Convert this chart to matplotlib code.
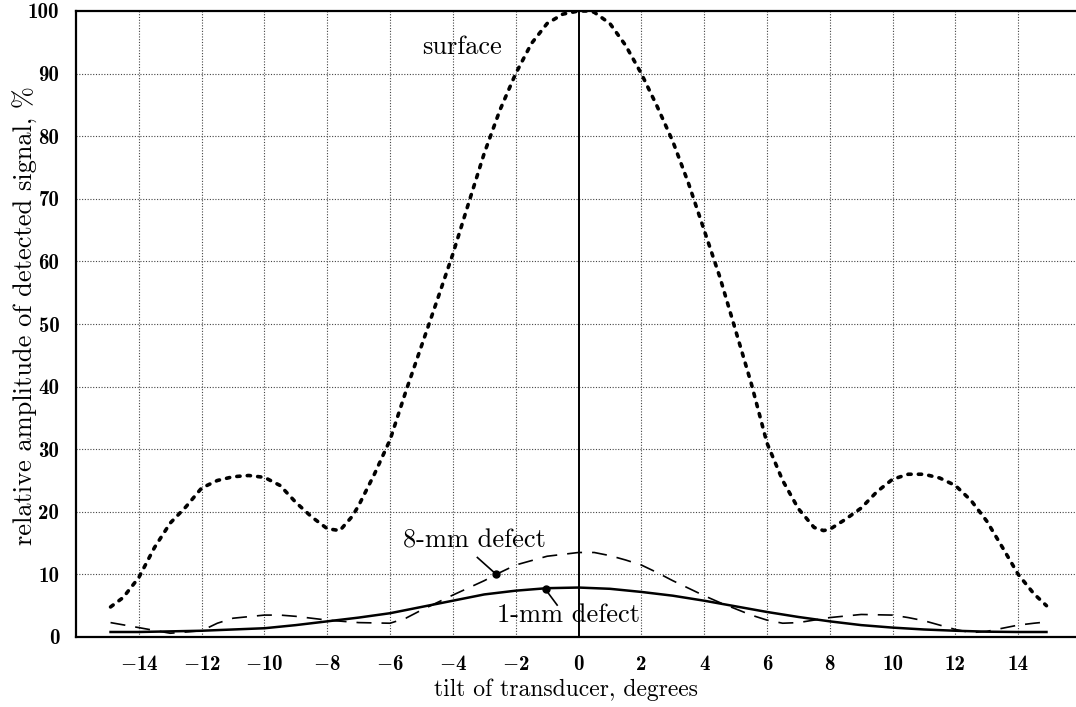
import matplotlib
matplotlib.use("Agg")
import matplotlib.pyplot as plt

plt.rcParams['mathtext.fontset'] = 'cm'
plt.rcParams['axes.unicode_minus'] = False

# ---- data ----
surface_x = [-14.9, -14.5, -14, -13.5, -13, -12.5, -12, -11.5, -11, -10.5, -10, -9.5, -9, -8.5, -8,
             -7.6, -7.2, -7, -6.5, -6, -5.5, -5, -4.5, -4, -3.5, -3, -2.5, -2, -1.5, -1, -0.5, 0,
             0.3, 0.5, 1, 1.5, 2, 2.5, 3, 3.5, 4, 4.5, 5, 5.5, 6, 6.5, 7, 7.5, 7.8, 8, 8.5, 9, 9.5,
             10, 10.5, 11, 11.5, 12, 12.5, 13, 13.5, 14, 14.5, 14.9]
surface_y = [4.8, 6.3, 9.5, 14.3, 18.2, 20.8, 23.8, 25.0, 25.6, 25.8, 25.5, 24.2, 21.5, 19.2, 17.3,
             17.0, 19.3, 21.0, 26.0, 31.5, 39.2, 46.5, 53.8, 61.2, 69.3, 77.3, 84.2, 90.0, 94.8, 98.0, 99.5, 100.0,
             100.0, 99.8, 98.0, 94.5, 90.0, 84.8, 79.2, 72.5, 65.0, 57.5, 49.0, 40.5, 31.0, 25.0, 20.5, 17.5, 17.0,
             17.2, 18.8, 20.6, 23.2, 25.2, 26.0, 26.0, 25.4, 24.2, 21.8, 18.5, 14.3, 10.0, 6.9, 5.0]

defect8_x = [-14.9, -14, -13, -12, -11.5, -11, -10, -9.5, -9, -8, -7, -6, -5.5, -5, -4.5, -4, -3, -2.5,
             -2, -1, 0, 0.5, 1, 1.5, 2, 2.5, 3, 3.5, 4, 4.5, 5, 5.5, 6, 6.5, 7, 7.5, 8, 9, 10, 10.5,
             11, 11.5, 12, 12.5, 13, 13.5, 14, 14.5, 14.9]
defect8_y = [2.3, 1.5, 0.6, 1.0, 2.2, 3.0, 3.5, 3.5, 3.3, 2.7, 2.3, 2.2, 3.0, 4.3, 5.5, 6.7, 9.0, 10.3,
             11.5, 12.9, 13.5, 13.5, 13.0, 12.3, 11.5, 10.3, 9.0, 7.8, 6.6, 5.5, 4.5, 3.5, 2.7, 2.2, 2.3, 2.7,
             3.1, 3.6, 3.5, 3.1, 2.6, 1.9, 1.2, 0.7, 0.9, 1.4, 1.9, 2.2, 2.4]

defect1_x = [-14.9, -14, -13, -12, -11, -10, -9, -8, -7, -6, -5, -4, -3, -2, -1, 0, 1, 2, 3, 4, 5, 6,
             7, 8, 9, 10, 11, 12, 13, 14, 14.9]
defect1_y = [0.8, 0.8, 0.9, 1.0, 1.2, 1.4, 1.9, 2.5, 3.1, 3.8, 4.8, 5.8, 6.8, 7.4, 7.8, 7.9, 7.7, 7.2,
             6.6, 5.8, 4.9, 4.0, 3.2, 2.5, 1.9, 1.5, 1.2, 1.0, 0.85, 0.8, 0.8]

x_ticks = [-14, -12, -10, -8, -6, -4, -2, 0, 2, 4, 6, 8, 10, 12, 14]
y_ticks = [0, 10, 20, 30, 40, 50, 60, 70, 80, 90, 100]

FONT = ['cmr10', 'DejaVu Serif']
BFONT = ['cmb10', 'DejaVu Serif']

fig = plt.figure(figsize=(10.76, 7.07), dpi=100)
ax = fig.add_axes([76/1076, 1 - 637/707, 1 - 76/1076, (637 - 11)/707])
ax.set_xlim(-16, 15.84)
ax.set_ylim(0, 100)

# grid
for xv in x_ticks:
    if xv != 0:
        ax.axvline(xv, color='#444444', lw=0.8, ls=(0, (1, 1.5)), zorder=1)
for yv in y_ticks[1:-1]:
    ax.axhline(yv, color='#444444', lw=0.8, ls=(0, (1, 1.5)), zorder=1)
ax.axvline(0, color='black', lw=1.4, zorder=2)

# curves
ax.plot(surface_x, surface_y, color='black', lw=2.6, ls=(0, (0.9, 2.0)),
        dash_capstyle='round', zorder=3)
ax.plot(defect8_x, defect8_y, color='black', lw=1.2, ls=(0, (9, 6)), zorder=3)
ax.plot(defect1_x, defect1_y, color='black', lw=1.8, zorder=3)

# annotations
ax.text(-3.7, 94.3, 'surface', fontsize=19, family=FONT, ha='center', va='center')
ax.text(-3.3, 15.4, '8-mm defect', fontsize=19, family=FONT, ha='center', va='center')
ax.text(-0.33, 3.5, '1-mm defect', fontsize=19, family=FONT, ha='center', va='center')
ax.plot([-3.22, -2.64], [12.7, 10.1], color='black', lw=1.2, zorder=4)
ax.plot([-2.64], [10.1], 'o', color='black', ms=5, zorder=4)
ax.plot([-0.68, -1.05], [5.1, 7.6], color='black', lw=1.2, zorder=4)
ax.plot([-1.05], [7.6], 'o', color='black', ms=5, zorder=4)

# spines and ticks
ax.spines['right'].set_visible(False)
for s in ['left', 'top', 'bottom']:
    ax.spines[s].set_linewidth(1.6)
ax.set_xticks(x_ticks)
ax.set_xticklabels([('$-$' + str(-v)) if v < 0 else str(v) for v in x_ticks],
                   family=BFONT, fontsize=15)
ax.set_yticks(y_ticks)
ax.set_yticklabels([str(v) for v in y_ticks], family=BFONT, fontsize=15)
ax.tick_params(axis='both', length=0)
ax.tick_params(axis='x', pad=13)
ax.tick_params(axis='y', pad=12)

fig.text(566/1076, 1 - 690/707, 'tilt of transducer, degrees', fontsize=17, family=FONT,
         ha='center', va='center')
fig.text(25/1076, 1 - 316/707, 'relative amplitude of detected signal, %', fontsize=19,
         family=FONT, rotation=90, ha='center', va='center')

fig.savefig('out.png', dpi=100)
